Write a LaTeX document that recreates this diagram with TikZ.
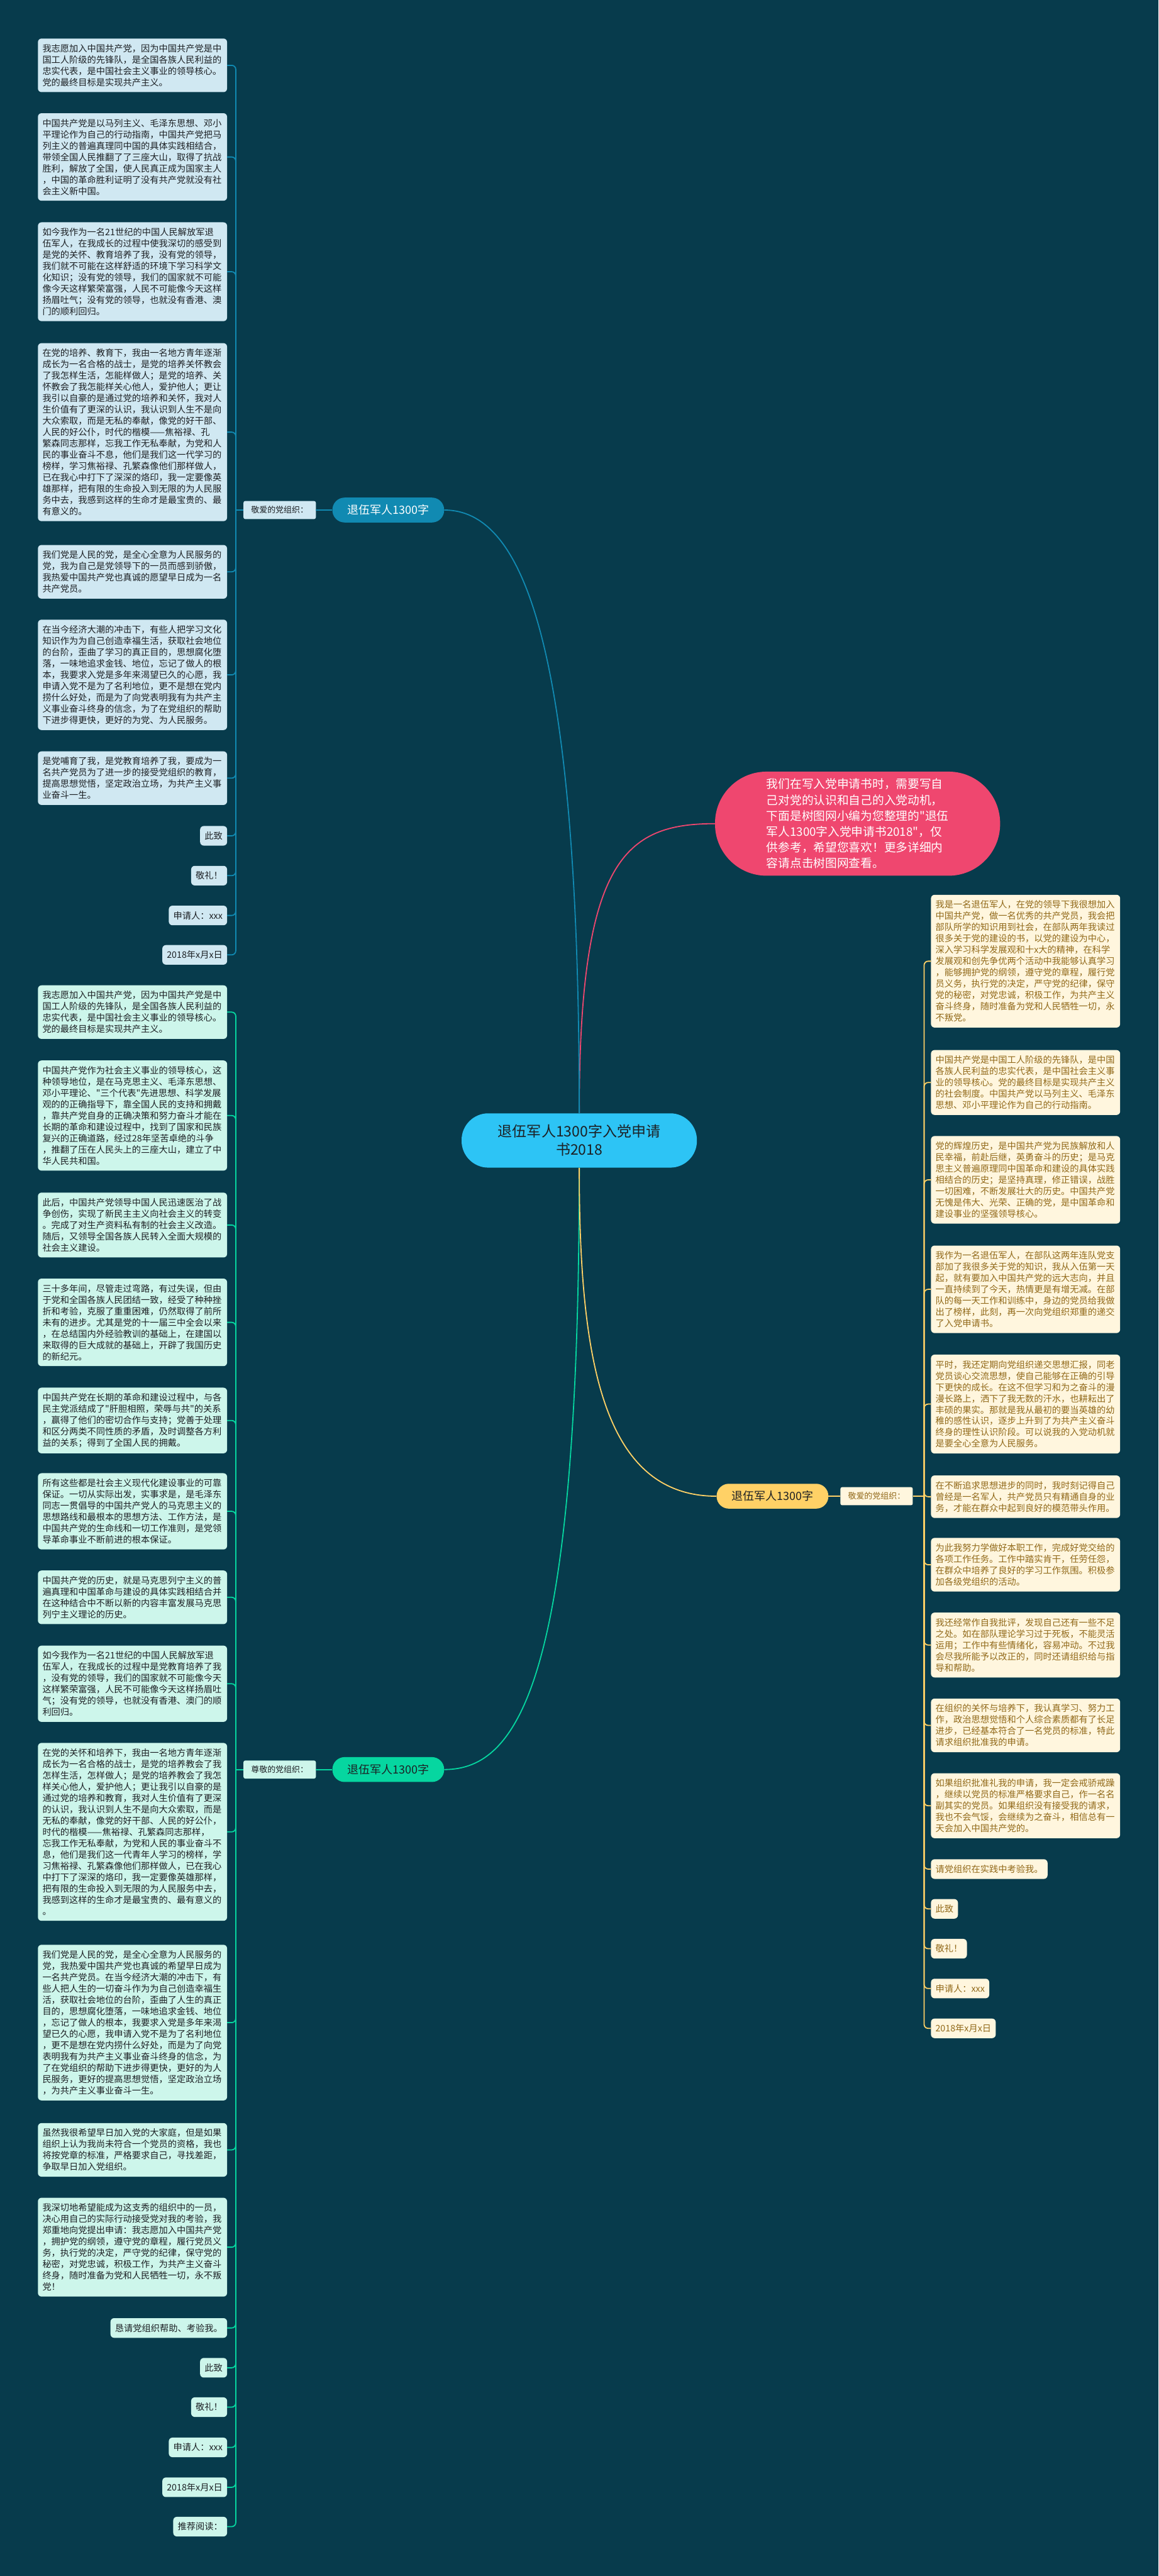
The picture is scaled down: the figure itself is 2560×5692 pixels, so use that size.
\documentclass[tikz,border=0pt]{standalone}
\usepackage{fontspec}
\newfontfamily\cjkfont{Noto Sans CJK SC}
\definecolor{bgteal}{RGB}{7,59,76}
\definecolor{rootblue}{RGB}{45,196,245}
\definecolor{pinkred}{RGB}{239,71,111}
\definecolor{deepblue}{RGB}{17,138,178}
\definecolor{mintgreen}{RGB}{6,214,160}
\definecolor{sunyellow}{RGB}{255,209,102}
\definecolor{paleblue}{RGB}{208,232,242}
\definecolor{palemint}{RGB}{205,246,235}
\definecolor{palecream}{RGB}{255,246,222}
\definecolor{inkdark}{RGB}{28,32,36}
\definecolor{inkbrown}{RGB}{145,105,25}
\tikzset{
  % text boxes of the branches
  leaf/.style={rectangle,rounded corners=8pt,inner xsep=10pt,inner ysep=12.5pt,align=left,
    font=\cjkfont\fontsize{19.8}{25}\selectfont},
  longtext/.style={text width=398pt},
  bluebox/.style={leaf,fill=paleblue,text=inkdark},
  mintbox/.style={leaf,fill=palemint,text=inkdark},
  creambox/.style={leaf,fill=palecream,text=inkbrown},
  % pill shaped nodes
  topic/.style={rectangle,rounded corners=27pt,minimum width=247pt,minimum height=55pt,inner sep=0pt,
    font=\cjkfont\fontsize{25}{28}\selectfont},
  tag/.style={rectangle,rounded corners=4pt,minimum width=160pt,minimum height=40pt,inner sep=0pt,
    font=\cjkfont\fontsize{18}{22}\selectfont},
  rootnode/.style={rectangle,rounded corners=59pt,minimum width=520pt,minimum height=120pt,inner sep=0pt,
    fill=rootblue,text=inkdark,align=center,font=\cjkfont\fontsize{32}{40}\selectfont},
  intro/.style={rectangle,rounded corners=114pt,minimum width=630pt,minimum height=230pt,inner sep=0pt,
    fill=pinkred,text=white,align=left,font=\cjkfont\fontsize{26}{35}\selectfont},
  bline/.style={draw=deepblue,line width=2.5pt},
  gline/.style={draw=mintgreen,line width=2.5pt},
  yline/.style={draw=sunyellow,line width=2.5pt},
  pline/.style={draw=pinkred,line width=2.5pt},
}
\begin{document}
\begin{tikzpicture}[x=1pt,y=-1pt]
\fill[bgteal] (0,0) rectangle (2560,5692);

\node[rootnode] (root) at (1280,2520) {退伍军人1300字入党申请\\书2018};
\node[intro] (intro) at (1895,1820) {我们在写入党申请书时，需要写自\\己对党的认识和自己的入党动机，\\下面是树图网小编为您整理的"退伍\\军人1300字入党申请书2018"，仅\\供参考，希望您喜欢！更多详细内\\容请点击树图网查看。};

% upper left branch
\node[topic,fill=deepblue,text=white] (topicA) at (858,1127) {退伍军人1300字};
\node[tag,fill=paleblue,text=inkdark] (tagA) at (618,1127) {敬爱的党组织：};
\coordinate (trunkA) at (521,1127);

\node[bluebox,longtext,anchor=north east] (a1) at (502,85) {我志愿加入中国共产党，因为中国共产党是中\\国工人阶级的先锋队，是全国各族人民利益的\\忠实代表，是中国社会主义事业的领导核心。\\党的最终目标是实现共产主义。};
\node[bluebox,longtext,anchor=north east] (a2) at (502,250) {中国共产党是以马列主义、毛泽东思想、邓小\\平理论作为自己的行动指南，中国共产党把马\\列主义的普遍真理同中国的具体实践相结合，\\带领全国人民推翻了了三座大山，取得了抗战\\胜利，解放了全国，使人民真正成为国家主人\\，中国的革命胜利证明了没有共产党就没有社\\会主义新中国。};
\node[bluebox,longtext,anchor=north east] (a3) at (502,491) {如今我作为一名21世纪的中国人民解放军退\\伍军人，在我成长的过程中使我深切的感受到\\是党的关怀、教育培养了我，没有党的领导，\\我们就不可能在这样舒适的环境下学习科学文\\化知识；没有党的领导，我们的国家就不可能\\像今天这样繁荣富强，人民不可能像今天这样\\扬眉吐气；没有党的领导，也就没有香港、澳\\门的顺利回归。};
\node[bluebox,longtext,anchor=north east] (a4) at (502,758) {在党的培养、教育下，我由一名地方青年逐渐\\成长为一名合格的战士，是党的培养关怀教会\\了我怎样生活，怎能样做人；是党的培养、关\\怀教会了我怎能样关心他人，爱护他人；更让\\我引以自豪的是通过党的培养和关怀，我对人\\生价值有了更深的认识，我认识到人生不是向\\大众索取，而是无私的奉献，像党的好干部、\\人民的好公仆，时代的楷模——焦裕禄、孔\\繁森同志那样，忘我工作无私奉献，为党和人\\民的事业奋斗不息，他们是我们这一代学习的\\榜样，学习焦裕禄、孔繁森像他们那样做人，\\已在我心中打下了深深的烙印，我一定要像英\\雄那样，把有限的生命投入到无限的为人民服\\务中去，我感到这样的生命才是最宝贵的、最\\有意义的。};
\node[bluebox,longtext,anchor=north east] (a5) at (502,1204) {我们党是人民的党，是全心全意为人民服务的\\党，我为自己是党领导下的一员而感到骄傲，\\我热爱中国共产党也真诚的愿望早日成为一名\\共产党员。};
\node[bluebox,longtext,anchor=north east] (a6) at (502,1369) {在当今经济大潮的冲击下，有些人把学习文化\\知识作为为自己创造幸福生活，获取社会地位\\的台阶，歪曲了学习的真正目的，思想腐化堕\\落，一味地追求金钱、地位，忘记了做人的根\\本，我要求入党是多年来渴望已久的心愿，我\\申请入党不是为了名利地位，更不是想在党内\\捞什么好处，而是为了向党表明我有为共产主\\义事业奋斗终身的信念，为了在党组织的帮助\\下进步得更快，更好的为党、为人民服务。};
\node[bluebox,longtext,anchor=north east] (a7) at (502,1660) {是党哺育了我，是党教育培养了我，要成为一\\名共产党员为了进一步的接受党组织的教育，\\提高思想觉悟，坚定政治立场，为共产主义事\\业奋斗一生。};
\node[bluebox,anchor=north east] (a8) at (502,1825) {此致};
\node[bluebox,anchor=north east] (a9) at (502,1913) {敬礼！};
\node[bluebox,anchor=north east] (a10) at (502,2001) {申请人：xxx};
\node[bluebox,anchor=north east] (a11) at (502,2088) {2018年x月x日};

% lower left branch
\node[topic,fill=mintgreen,text=inkdark] (topicB) at (858,3910) {退伍军人1300字};
\node[tag,fill=palemint,text=inkdark] (tagB) at (618,3910) {尊敬的党组织：};
\coordinate (trunkB) at (521,3910);

\node[mintbox,longtext,anchor=north east] (b1) at (502,2177) {我志愿加入中国共产党，因为中国共产党是中\\国工人阶级的先锋队，是全国各族人民利益的\\忠实代表，是中国社会主义事业的领导核心。\\党的最终目标是实现共产主义。};
\node[mintbox,longtext,anchor=north east] (b2) at (502,2343) {中国共产党作为社会主义事业的领导核心，这\\种领导地位，是在马克思主义、毛泽东思想、\\邓小平理论、"三个代表"先进思想、科学发展\\观的的正确指导下，靠全国人民的支持和拥戴\\，靠共产党自身的正确决策和努力奋斗才能在\\长期的革命和建设过程中，找到了国家和民族\\复兴的正确道路，经过28年坚苦卓绝的斗争\\，推翻了压在人民头上的三座大山，建立了中\\华人民共和国。};
\node[mintbox,longtext,anchor=north east] (b3) at (502,2635) {此后，中国共产党领导中国人民迅速医治了战\\争创伤，实现了新民主主义向社会主义的转变\\。完成了对生产资料私有制的社会主义改造。\\随后，又领导全国各族人民转入全面大规模的\\社会主义建设。};
\node[mintbox,longtext,anchor=north east] (b4) at (502,2825) {三十多年间，尽管走过弯路，有过失误，但由\\于党和全国各族人民团结一致，经受了种种挫\\折和考验，克服了重重困难，仍然取得了前所\\未有的进步。尤其是党的十一届三中全会以来\\，在总结国内外经验教训的基础上，在建国以\\来取得的巨大成就的基础上，开辟了我国历史\\的新纪元。};
\node[mintbox,longtext,anchor=north east] (b5) at (502,3066) {中国共产党在长期的革命和建设过程中，与各\\民主党派结成了"肝胆相照，荣辱与共"的关系\\，赢得了他们的密切合作与支持；党善于处理\\和区分两类不同性质的矛盾，及时调整各方利\\益的关系；得到了全国人民的拥戴。};
\node[mintbox,longtext,anchor=north east] (b6) at (502,3255) {所有这些都是社会主义现代化建设事业的可靠\\保证。一切从实际出发，实事求是，是毛泽东\\同志一贯倡导的中国共产党人的马克思主义的\\思想路线和最根本的思想方法、工作方法，是\\中国共产党的生命线和一切工作准则，是党领\\导革命事业不断前进的根本保证。};
\node[mintbox,longtext,anchor=north east] (b7) at (502,3470) {中国共产党的历史，就是马克思列宁主义的普\\遍真理和中国革命与建设的具体实践相结合并\\在这种结合中不断以新的内容丰富发展马克思\\列宁主义理论的历史。};
\node[mintbox,longtext,anchor=north east] (b8) at (502,3636) {如今我作为一名21世纪的中国人民解放军退\\伍军人，在我成长的过程中是党教育培养了我\\，没有党的领导，我们的国家就不可能像今天\\这样繁荣富强，人民不可能像今天这样扬眉吐\\气；没有党的领导，也就没有香港、澳门的顺\\利回归。};
\node[mintbox,longtext,anchor=north east] (b9) at (502,3851) {在党的关怀和培养下，我由一名地方青年逐渐\\成长为一名合格的战士，是党的培养教会了我\\怎样生活，怎样做人；是党的培养教会了我怎\\样关心他人，爱护他人；更让我引以自豪的是\\通过党的培养和教育，我对人生价值有了更深\\的认识，我认识到人生不是向大众索取，而是\\无私的奉献，像党的好干部、人民的好公仆，\\时代的楷模——焦裕禄、孔繁森同志那样，\\忘我工作无私奉献，为党和人民的事业奋斗不\\息，他们是我们这一代青年人学习的榜样，学\\习焦裕禄、孔繁森像他们那样做人，已在我心\\中打下了深深的烙印，我一定要像英雄那样，\\把有限的生命投入到无限的为人民服务中去，\\我感到这样的生命才是最宝贵的、最有意义的\\。};
\node[mintbox,longtext,anchor=north east] (b10) at (502,4297) {我们党是人民的党，是全心全意为人民服务的\\党，我热爱中国共产党也真诚的希望早日成为\\一名共产党员。在当今经济大潮的冲击下，有\\些人把人生的一切奋斗作为为自己创造幸福生\\活，获取社会地位的台阶，歪曲了人生的真正\\目的，思想腐化堕落，一味地追求金钱、地位\\，忘记了做人的根本，我要求入党是多年来渴\\望已久的心愿，我申请入党不是为了名利地位\\，更不是想在党内捞什么好处，而是为了向党\\表明我有为共产主义事业奋斗终身的信念，为\\了在党组织的帮助下进步得更快，更好的为人\\民服务，更好的提高思想觉悟，坚定政治立场\\，为共产主义事业奋斗一生。};
\node[mintbox,longtext,anchor=north east] (b11) at (502,4691) {虽然我很希望早日加入党的大家庭，但是如果\\组织上认为我尚未符合一个党员的资格，我也\\将按党章的标准，严格要求自己，寻找差距，\\争取早日加入党组织。};
\node[mintbox,longtext,anchor=north east] (b12) at (502,4856) {我深切地希望能成为这支秀的组织中的一员，\\决心用自己的实际行动接受党对我的考验，我\\郑重地向党提出申请：我志愿加入中国共产党\\，拥护党的纲领，遵守党的章程，履行党员义\\务，执行党的决定，严守党的纪律，保守党的\\秘密，对党忠诚，积极工作，为共产主义奋斗\\终身，随时准备为党和人民牺牲一切，永不叛\\党！};
\node[mintbox,anchor=north east] (b13) at (502,5122) {恳请党组织帮助、考验我。};
\node[mintbox,anchor=north east] (b14) at (502,5210) {此致};
\node[mintbox,anchor=north east] (b15) at (502,5297) {敬礼！};
\node[mintbox,anchor=north east] (b16) at (502,5386) {申请人：xxx};
\node[mintbox,anchor=north east] (b17) at (502,5474) {2018年x月x日};
\node[mintbox,anchor=north east] (b18) at (502,5561) {推荐阅读：};

% right branch
\node[topic,fill=sunyellow,text=inkdark] (topicC) at (1707,3306) {退伍军人1300字};
\node[tag,fill=palecream,text=inkbrown] (tagC) at (1937,3306) {敬爱的党组织：};
\coordinate (trunkC) at (2042,3306);

\node[creambox,longtext,anchor=north west] (c1) at (2057,1977) {我是一名退伍军人，在党的领导下我很想加入\\中国共产党，做一名优秀的共产党员，我会把\\部队所学的知识用到社会，在部队两年我读过\\很多关于党的建设的书，以党的建设为中心，\\深入学习科学发展观和十x大的精神，在科学\\发展观和创先争优两个活动中我能够认真学习\\，能够拥护党的纲领，遵守党的章程，履行党\\员义务，执行党的决定，严守党的纪律，保守\\党的秘密，对党忠诚，积极工作，为共产主义\\奋斗终身，随时准备为党和人民牺牲一切，永\\不叛党。};
\node[creambox,longtext,anchor=north west] (c2) at (2057,2320) {中国共产党是中国工人阶级的先锋队，是中国\\各族人民利益的忠实代表，是中国社会主义事\\业的领导核心。党的最终目标是实现共产主义\\的社会制度。中国共产党以马列主义、毛泽东\\思想、邓小平理论作为自己的行动指南。};
\node[creambox,longtext,anchor=north west] (c3) at (2057,2510) {党的辉煌历史，是中国共产党为民族解放和人\\民幸福，前赴后继，英勇奋斗的历史；是马克\\思主义普遍原理同中国革命和建设的具体实践\\相结合的历史；是坚持真理，修正错误，战胜\\一切困难，不断发展壮大的历史。中国共产党\\无愧是伟大、光荣、正确的党，是中国革命和\\建设事业的坚强领导核心。};
\node[creambox,longtext,anchor=north west] (c4) at (2057,2752) {我作为一名退伍军人，在部队这两年连队党支\\部加了我很多关于党的知识，我从入伍第一天\\起，就有要加入中国共产党的远大志向，并且\\一直持续到了今天，热情更是有增无减。在部\\队的每一天工作和训练中，身边的党员给我做\\出了榜样，此刻，再一次向党组织郑重的递交\\了入党申请书。};
\node[creambox,longtext,anchor=north west] (c5) at (2057,2993) {平时，我还定期向党组织递交思想汇报，同老\\党员谈心交流思想，使自己能够在正确的引导\\下更快的成长。在这不但学习和为之奋斗的漫\\漫长路上，洒下了我无数的汗水，也耕耘出了\\丰硕的果实。那就是我从最初的要当英雄的幼\\稚的感性认识，逐步上升到了为共产主义奋斗\\终身的理性认识阶段。可以说我的入党动机就\\是要全心全意为人民服务。};
\node[creambox,longtext,anchor=north west] (c6) at (2057,3260) {在不断追求思想进步的同时，我时刻记得自己\\曾经是一名军人，共产党员只有精通自身的业\\务，才能在群众中起到良好的模范带头作用。};
\node[creambox,longtext,anchor=north west] (c7) at (2057,3398) {为此我努力学做好本职工作，完成好党交给的\\各项工作任务。工作中踏实肯干，任劳任怨，\\在群众中培养了良好的学习工作氛围。积极参\\加各级党组织的活动。};
\node[creambox,longtext,anchor=north west] (c8) at (2057,3563) {我还经常作自我批评，发现自己还有一些不足\\之处。如在部队理论学习过于死板，不能灵活\\运用；工作中有些情绪化，容易冲动。不过我\\会尽我所能予以改正的，同时还请组织给与指\\导和帮助。};
\node[creambox,longtext,anchor=north west] (c9) at (2057,3753) {在组织的关怀与培养下，我认真学习、努力工\\作，政治思想觉悟和个人综合素质都有了长足\\进步，已经基本符合了一名党员的标准，特此\\请求组织批准我的申请。};
\node[creambox,longtext,anchor=north west] (c10) at (2057,3918) {如果组织批准礼我的申请，我一定会戒骄戒躁\\，继续以党员的标准严格要求自己，作一名名\\副其实的党员。如果组织没有接受我的请求，\\我也不会气馁，会继续为之奋斗，相信总有一\\天会加入中国共产党的。};
\node[creambox,anchor=north west] (c11) at (2057,4108) {请党组织在实践中考验我。};
\node[creambox,anchor=north west] (c12) at (2057,4196) {此致};
\node[creambox,anchor=north west] (c13) at (2057,4284) {敬礼！};
\node[creambox,anchor=north west] (c14) at (2057,4372) {申请人：xxx};
\node[creambox,anchor=north west] (c15) at (2057,4460) {2018年x月x日};

% curves out of the root
\draw[pline] (root.north) .. controls (1280,1900) and (1380,1820) .. (intro.west);
\draw[bline] (root.north) .. controls (1280,1400) and (1150,1127) .. (topicA.east);
\draw[gline] (root.south) .. controls (1280,3700) and (1150,3910) .. (topicB.east);
\draw[yline] (root.south) .. controls (1280,3000) and (1330,3306) .. (topicC.west);

\draw[bline] (topicA.west) -- (tagA.east);
\draw[bline] (tagA.west) -- (trunkA);
\draw[gline] (topicB.west) -- (tagB.east);
\draw[gline] (tagB.west) -- (trunkB);
\draw[yline] (topicC.east) -- (tagC.west);
\draw[yline] (tagC.east) -- (trunkC);

\draw[bline,rounded corners=9pt] (trunkA) |- (a1.east);
\draw[bline,rounded corners=9pt] (trunkA) |- (a2.east);
\draw[bline,rounded corners=9pt] (trunkA) |- (a3.east);
\draw[bline,rounded corners=9pt] (trunkA) |- (a4.east);
\draw[bline,rounded corners=9pt] (trunkA) |- (a5.east);
\draw[bline,rounded corners=9pt] (trunkA) |- (a6.east);
\draw[bline,rounded corners=9pt] (trunkA) |- (a7.east);
\draw[bline,rounded corners=9pt] (trunkA) |- (a8.east);
\draw[bline,rounded corners=9pt] (trunkA) |- (a9.east);
\draw[bline,rounded corners=9pt] (trunkA) |- (a10.east);
\draw[bline,rounded corners=9pt] (trunkA) |- (a11.east);

\draw[gline,rounded corners=9pt] (trunkB) |- (b1.east);
\draw[gline,rounded corners=9pt] (trunkB) |- (b2.east);
\draw[gline,rounded corners=9pt] (trunkB) |- (b3.east);
\draw[gline,rounded corners=9pt] (trunkB) |- (b4.east);
\draw[gline,rounded corners=9pt] (trunkB) |- (b5.east);
\draw[gline,rounded corners=9pt] (trunkB) |- (b6.east);
\draw[gline,rounded corners=9pt] (trunkB) |- (b7.east);
\draw[gline,rounded corners=9pt] (trunkB) |- (b8.east);
\draw[gline,rounded corners=9pt] (trunkB) |- (b9.east);
\draw[gline,rounded corners=9pt] (trunkB) |- (b10.east);
\draw[gline,rounded corners=9pt] (trunkB) |- (b11.east);
\draw[gline,rounded corners=9pt] (trunkB) |- (b12.east);
\draw[gline,rounded corners=9pt] (trunkB) |- (b13.east);
\draw[gline,rounded corners=9pt] (trunkB) |- (b14.east);
\draw[gline,rounded corners=9pt] (trunkB) |- (b15.east);
\draw[gline,rounded corners=9pt] (trunkB) |- (b16.east);
\draw[gline,rounded corners=9pt] (trunkB) |- (b17.east);
\draw[gline,rounded corners=9pt] (trunkB) |- (b18.east);

\draw[yline,rounded corners=9pt] (trunkC) |- (c1.west);
\draw[yline,rounded corners=9pt] (trunkC) |- (c2.west);
\draw[yline,rounded corners=9pt] (trunkC) |- (c3.west);
\draw[yline,rounded corners=9pt] (trunkC) |- (c4.west);
\draw[yline,rounded corners=9pt] (trunkC) |- (c5.west);
\draw[yline,rounded corners=9pt] (trunkC) |- (c6.west);
\draw[yline,rounded corners=9pt] (trunkC) |- (c7.west);
\draw[yline,rounded corners=9pt] (trunkC) |- (c8.west);
\draw[yline,rounded corners=9pt] (trunkC) |- (c9.west);
\draw[yline,rounded corners=9pt] (trunkC) |- (c10.west);
\draw[yline,rounded corners=9pt] (trunkC) |- (c11.west);
\draw[yline,rounded corners=9pt] (trunkC) |- (c12.west);
\draw[yline,rounded corners=9pt] (trunkC) |- (c13.west);
\draw[yline,rounded corners=9pt] (trunkC) |- (c14.west);
\draw[yline,rounded corners=9pt] (trunkC) |- (c15.west);

\end{tikzpicture}
\end{document}
